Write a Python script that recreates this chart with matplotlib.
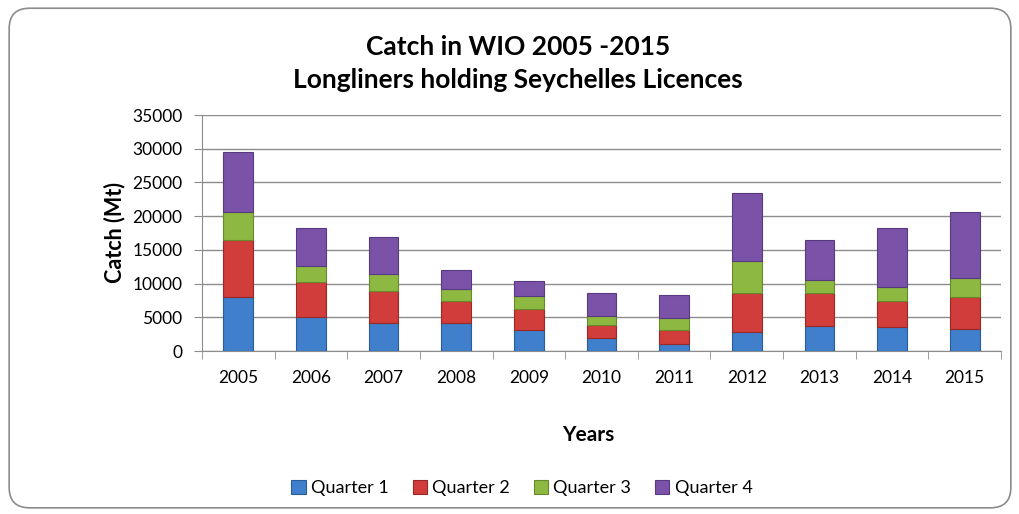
import matplotlib
matplotlib.use("Agg")
import matplotlib.pyplot as plt
import numpy as np
from matplotlib.patches import FancyBboxPatch

years = ["2005", "2006", "2007", "2008", "2009", "2010", "2011", "2012", "2013", "2014", "2015"]
quarter1 = [8000, 5000, 4200, 4150, 3100, 1900, 1100, 2850, 3700, 3500, 3200]
quarter2 = [8450, 5300, 4750, 3300, 3150, 2000, 2050, 5700, 4850, 3950, 4850]
quarter3 = [4150, 2300, 2500, 1800, 1950, 1350, 1800, 4800, 2050, 2050, 2850]
quarter4 = [8850, 5700, 5400, 2700, 2200, 3350, 3400, 10100, 5850, 8700, 9700]
series_names = ["Quarter 1", "Quarter 2", "Quarter 3", "Quarter 4"]
colors = ["#3F7FCB", "#D13D3A", "#8DB841", "#7A52A8"]
edges = ["#2A5C99", "#9A2A28", "#668A2A", "#573A80"]

plt.rcParams['font.family'] = ['Lato', 'DejaVu Sans']

fig = plt.figure(figsize=(10.19, 5.14), dpi=100)
fig.patch.set_facecolor("white")
border = FancyBboxPatch((0.009, 0.012), 0.983, 0.972, boxstyle="round,pad=0,rounding_size=0.02",
                        transform=fig.transFigure, facecolor="white", edgecolor="#8C8C8C",
                        linewidth=1.2, mutation_aspect=1019/514, zorder=-10)
fig.patches.append(border)

ax = fig.add_axes([202/1019, 1-351/514, (1001-202)/1019, (351-115)/514])
ax.set_facecolor("none")
ax.set_zorder(2)
x = np.arange(len(years))
data = [quarter1, quarter2, quarter3, quarter4]
bottom = np.zeros(len(years))
handles = []
for vals, c, e, name in zip(data, colors, edges, series_names):
    b = ax.bar(x, vals, 0.41, bottom=bottom, color=c, edgecolor=e, linewidth=0.8, label=name, zorder=3)
    handles.append(b)
    bottom = bottom + np.array(vals)

ax.set_xlim(-0.5, len(years) - 0.5)
ax.set_ylim(0, 35000)
ax.set_yticks(np.arange(0, 35001, 5000))
ax.set_yticklabels([str(v) for v in range(0, 35001, 5000)], fontsize=12.5)
ax.set_xticks(x)
ax.set_xticklabels(years, fontsize=12.5)
ax.tick_params(axis='x', which='major', length=0, pad=14)
ax.set_xticks(np.arange(-0.5, len(years), 1), minor=True)
ax.tick_params(axis='x', which='minor', length=6, color="#8C8C8C", direction='out')
ax.tick_params(axis='y', length=6, color="#8C8C8C", direction='out', pad=8)
ax.grid(axis='y', color="#8C8C8C", linewidth=1.0, zorder=0)
for s in ["top", "right"]:
    ax.spines[s].set_visible(False)
ax.spines["left"].set_color("#8C8C8C")
ax.spines["bottom"].set_color("#8C8C8C")

fig.text(0.508, 1-47/514, "Catch in WIO 2005 -2015", ha="center", va="center", fontsize=19, fontweight="bold")
fig.text(0.508, 1-80/514, "Longliners holding Seychelles Licences", ha="center", va="center", fontsize=19, fontweight="bold")
fig.text(115/1019, 1-233/514, "Catch (Mt)", ha="center", va="center", rotation=90, fontsize=15.5, fontweight="bold")
fig.text(588/1019, 1-435/514, "Years", ha="center", va="center", fontsize=15, fontweight="bold")

fig.legend(handles=handles, labels=series_names, loc="center", bbox_to_anchor=(522/1019, 1-488/514),
           ncol=4, frameon=False, fontsize=13, handlelength=0.8, handleheight=0.8,
           handletextpad=0.3, columnspacing=1.3)

fig.savefig("out.png", dpi=100, facecolor="white")
